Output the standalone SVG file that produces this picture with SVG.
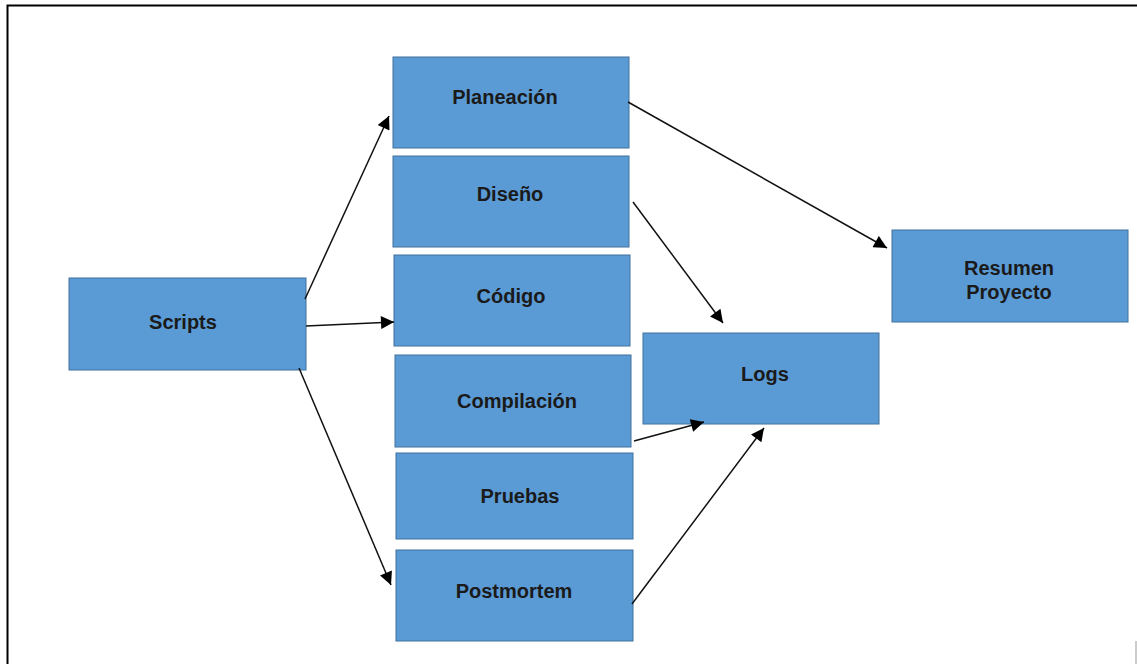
<svg xmlns="http://www.w3.org/2000/svg" width="1137" height="664" viewBox="0 0 1137 664">
  <style>
    .box { fill: #5B9BD5; stroke: #41719C; stroke-width: 1; }
    .lbl { font-family: "Liberation Sans", Arial, sans-serif; font-size: 20px; font-weight: bold; fill: #1a1a1a; text-anchor: middle; dominant-baseline: central; }
    .conn { stroke: #111; stroke-width: 1.5; fill: none; marker-end: url(#arrow); }
  </style>
  <defs>
    <marker id="arrow" viewBox="0 0 10 10" refX="10" refY="5" markerWidth="15" markerHeight="13" markerUnits="userSpaceOnUse" orient="auto">
      <path d="M0,0 L10,5 L0,10 Z" fill="#000"/>
    </marker>
  </defs>
  <rect width="1137" height="664" fill="#fff"/>

  <!-- outer frame -->
  <path d="M7.5,664 L7.5,5.5 L1137,5.5" fill="none" stroke="#000" stroke-width="2"/>
  <line x1="1136" y1="641" x2="1136" y2="664" stroke="#999" stroke-width="1"/>

  <g id="node-scripts">
    <rect class="box" x="69" y="278" width="237" height="92"/>
    <text class="lbl" x="183" y="322">Scripts</text>
  </g>
  <g id="node-planeacion">
    <rect class="box" x="393" y="57" width="236" height="91"/>
    <text class="lbl" x="505" y="97">Planeación</text>
  </g>
  <g id="node-diseno">
    <rect class="box" x="393" y="156" width="236" height="91"/>
    <text class="lbl" x="510" y="194">Diseño</text>
  </g>
  <g id="node-codigo">
    <rect class="box" x="394" y="255" width="236" height="91"/>
    <text class="lbl" x="511" y="296">Código</text>
  </g>
  <g id="node-compilacion">
    <rect class="box" x="395" y="355" width="236" height="92"/>
    <text class="lbl" x="517" y="401">Compilación</text>
  </g>
  <g id="node-pruebas">
    <rect class="box" x="396" y="453" width="237" height="86"/>
    <text class="lbl" x="520" y="496">Pruebas</text>
  </g>
  <g id="node-postmortem">
    <rect class="box" x="396" y="550" width="237" height="91"/>
    <text class="lbl" x="514" y="591">Postmortem</text>
  </g>
  <g id="node-logs">
    <rect class="box" x="643" y="333" width="236" height="91"/>
    <text class="lbl" x="765" y="374">Logs</text>
  </g>
  <g id="node-resumen">
    <rect class="box" x="892" y="230" width="236" height="92"/>
    <text class="lbl" x="1009" y="268">Resumen</text>
    <text class="lbl" x="1009" y="292">Proyecto</text>
  </g>

  <g id="connectors">
    <line class="conn" x1="305" y1="299" x2="389" y2="116"/>
    <line class="conn" x1="306" y1="326" x2="394" y2="322"/>
    <line class="conn" x1="299" y1="368" x2="391" y2="585"/>
    <line class="conn" x1="628" y1="102" x2="887" y2="248"/>
    <line class="conn" x1="633" y1="202" x2="723" y2="323"/>
    <line class="conn" x1="634" y1="441" x2="704" y2="422"/>
    <line class="conn" x1="632" y1="604" x2="764" y2="428"/>
  </g>
</svg>
